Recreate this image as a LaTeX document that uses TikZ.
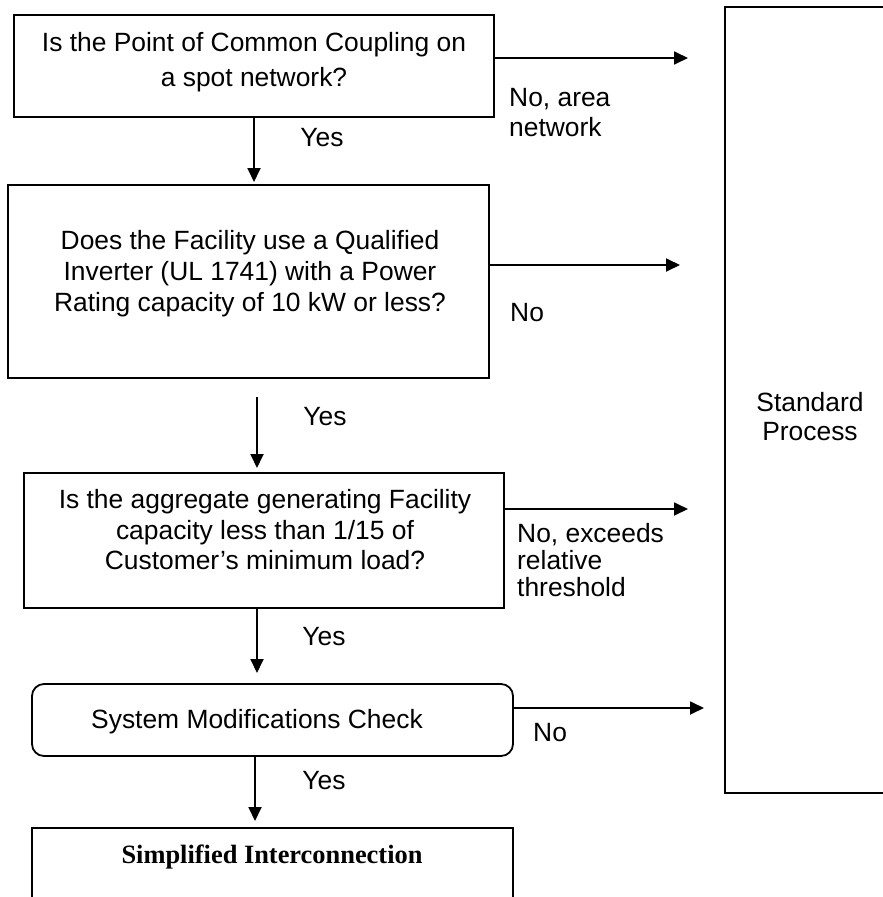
\documentclass[tikz,border=0pt]{standalone}
\usepackage{fontspec}
\setmainfont{Liberation Sans}
\newfontfamily\serifbold{Liberation Serif}
\usetikzlibrary{arrows.meta,calc}
\begin{document}
\begin{tikzpicture}[x=1pt,y=-1pt,
 box/.style={draw,line width=1.8pt,inner sep=0pt,outer sep=0pt,rectangle},
 txt/.style={align=center,inner sep=0pt,font=\fontsize{26.4}{30.5}\selectfont},
 lbl/.style={align=left,inner sep=0pt,anchor=west,font=\fontsize{26.4}{27}\selectfont},
 arr/.style={line width=1.8pt,-{Triangle[length=14pt,width=13pt]}},
 spline/.style={line width=2.4pt,line cap=butt}]
\useasboundingbox (0,0) rectangle (883,897);
\fill[white] (-6,-6) rectangle (892,905);
\clip (0,0) rectangle (883,897);
% boxes
\node[box,minimum width=480pt,minimum height=102pt] (b1) at (254,66) {};
\node[box,minimum width=481pt,minimum height=193pt] (b2) at (248.5,281.5) {};
\node[box,minimum width=480pt,minimum height=135pt] (b3) at (264,540.5) {};
\node[box,rounded corners=12pt,minimum width=481pt,minimum height=72pt] (b4) at (272.5,720) {};
\node[box,minimum width=481pt,minimum height=112pt] (b5) at (272.5,884) {};
\node[inner sep=0pt,outer sep=0pt,minimum width=190pt,minimum height=786pt] (sp) at (820,400) {};
\draw[spline] (sp.north west) -- (sp.north east);
\draw[spline] (sp.south west) -- (sp.south east);
\draw[spline,line cap=rect] (sp.north west) -- (sp.south west);
% texts
\node[txt,font=\fontsize{26.4}{35}\selectfont] (t1) at (254,62.5) {Is the Point of Common Coupling on\\a spot network?};
\node[txt,font=\fontsize{26.4}{31}\selectfont] (t2) at (250,274) {Does the Facility use a Qualified\\Inverter (UL 1741) with a Power\\Rating capacity of 10 kW or less?};
\node[txt] (t3) at (265,530) {Is the aggregate generating Facility\\capacity less than 1/15 of\\Customer’s minimum load?};
\node[txt] (t4) at (257,722) {System Modifications Check};
\node[txt,font=\fontsize{26.4}{30.5}\serifbold\bfseries] (t5) at (272,857) {Simplified Interconnection};
\node[txt,font=\fontsize{26.4}{29}\selectfont] (tsp) at (810,417) {Standard\\Process};
% free ends
\coordinate (e1) at (688,58);
\coordinate (e2) at (680,265);
\coordinate (e3) at (688,509);
\coordinate (e4) at (704,708);
% connectors
\draw[arr,shorten >=3pt] (b1.south) -- (b1.south |- b2.north);
\draw[arr,shorten <=19pt,shorten >=5pt] ([xshift=8.5pt]b2.south) -- ([xshift=8.5pt]b2.south |- b3.north);
\draw[arr,shorten >=11pt] ([xshift=-7pt]b3.south) -- ([xshift=-7pt]b3.south |- b4.north);
\draw[arr,shorten >=7pt] ([xshift=-17.5pt]b4.south) -- ([xshift=-17.5pt]b4.south |- b5.north);
\draw[arr] (b1.east |- e1) -- (e1);
\draw[arr] (b2.east |- e2) -- (e2);
\draw[arr] (b3.east |- e3) -- (e3);
\draw[arr] (b4.east |- e4) -- (e4);
% labels
\node[txt] (y1) at (322,138) {Yes};
\node[txt] (y2) at (325,417) {Yes};
\node[txt] (y3) at (324,637) {Yes};
\node[txt] (y4) at (324,781) {Yes};
\node[lbl,font=\fontsize{26.4}{30}\selectfont] (n1) at (509,113) {No, area\\network};
\node[lbl] (n2) at (510,313) {No};
\node[lbl] (n3) at (517,560) {No, exceeds\\relative\\threshold};
\node[lbl] (n4) at (533,733) {No};
\end{tikzpicture}
\end{document}
